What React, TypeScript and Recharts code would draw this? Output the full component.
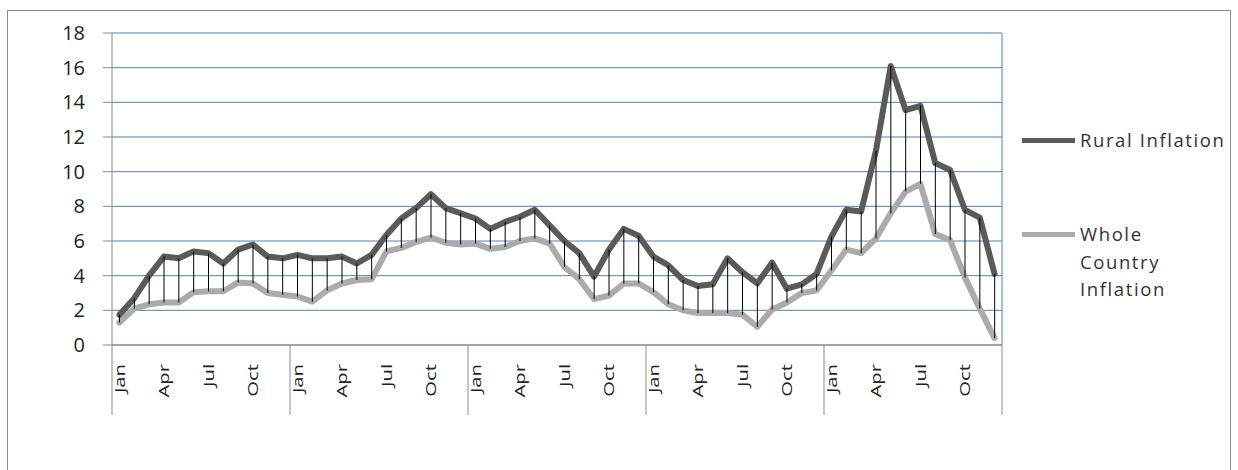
import React from "react";
import { ComposedChart, Line, Bar, XAxis, YAxis, CartesianGrid, Legend } from "recharts";

const monthNames = ["Jan","Feb","Mar","Apr","May","Jun","Jul","Aug","Sep","Oct","Nov","Dec"];
const yearsCount = 5;
const categories: string[] = Array.from({ length: yearsCount * 12 }, (_, i) => monthNames[i % 12]);
const shownLabels = ["Jan", "Apr", "Jul", "Oct"];

const rural = [
  1.75, 2.7, 4.0, 5.1, 5.0, 5.4, 5.3, 4.7, 5.5, 5.8, 5.1, 5.0,
  5.2, 5.0, 5.0, 5.1, 4.7, 5.2, 6.35, 7.3, 7.9, 8.7, 7.9, 7.6,
  7.3, 6.7, 7.1, 7.4, 7.8, 6.9, 6.0, 5.3, 3.95, 5.5, 6.7, 6.3,
  5.1, 4.6, 3.75, 3.4, 3.5, 5.0, 4.2, 3.55, 4.75, 3.25, 3.5, 4.1,
  6.25, 7.8, 7.7, 11.2, 16.1, 13.55, 13.8, 10.5, 10.1, 7.8, 7.35, 4.1,
];

const whole = [
  1.3, 2.1, 2.35, 2.45, 2.45, 3.05, 3.1, 3.1, 3.6, 3.55, 3.0, 2.9,
  2.8, 2.5, 3.15, 3.55, 3.75, 3.8, 5.4, 5.6, 5.95, 6.2, 5.9, 5.8,
  5.85, 5.55, 5.65, 6.0, 6.15, 5.85, 4.5, 3.8, 2.65, 2.85, 3.55, 3.55,
  3.05, 2.35, 2.0, 1.85, 1.85, 1.85, 1.75, 1.05, 2.05, 2.45, 3.0, 3.15,
  4.3, 5.5, 5.3, 6.15, 7.6, 8.85, 9.3, 6.4, 6.05, 3.9, 2.1, 0.4,
];

const yTicks = [0, 2, 4, 6, 8, 10, 12, 14, 16, 18];

const seriesNames = ["Rural Inflation", "Whole Country Inflation"];
const legendLines = [["Rural Inflation"], ["Whole", "Country", "Inflation"]];

const RURAL_COLOR = "#5a5a5a";
const WHOLE_COLOR = "#ababab";
const FONT = "'Open Sans', 'Noto Sans', sans-serif";

const data = categories.map((m, i) => ({
  month: m,
  rural: rural[i],
  whole: whole[i],
  range: [whole[i], rural[i]],
}));

const MonthTick = (props: any) => {
  const { x, y, payload, index } = props;
  const idx = payload?.index ?? index;
  const half = payload?.offset ?? 0;
  const label = payload?.value;
  const total = categories.length;
  return (
    <g>
      {idx % 12 === 0 && (
        <line x1={x - half} x2={x - half} y1={y} y2={y + 70} stroke="#8c8c8c" strokeWidth={1} />
      )}
      {idx === total - 1 && (
        <line x1={x + half} x2={x + half} y1={y} y2={y + 70} stroke="#8c8c8c" strokeWidth={1} />
      )}
      {shownLabels.includes(label) && (
        <text
          transform={`translate(${x + 5.3},${y + 19}) rotate(-90) scale(1.35,1)`}
          textAnchor="end"
          fontSize={15}
          fontFamily={FONT}
          fill="#222"
        >
          {label}
        </text>
      )}
    </g>
  );
};

const LegendContent = () => {
  const colors = [RURAL_COLOR, WHOLE_COLOR];
  return (
    <div style={{ fontFamily: FONT, fontSize: 18.5, lineHeight: "27.5px", color: "#333" }}>
      {legendLines.map((lines, k) => (
        <div key={k} style={{ display: "flex", alignItems: "flex-start", marginTop: k === 0 ? 0 : 66.5 }}>
          <div style={{ width: 53, height: 5, background: colors[k], marginTop: 11.5, flex: "none" }} />
          <div style={{ marginLeft: 5, letterSpacing: "1.6px", whiteSpace: "nowrap" }}>
            {lines.map((t, j) => (
              <div key={j}>{t}</div>
            ))}
          </div>
        </div>
      ))}
    </div>
  );
};

export default function App() {
  return (
    <div style={{ position: "absolute", left: 0, top: 0, width: 1238, height: 470, background: "#fff", overflow: "hidden" }}>
      <div
        style={{
          position: "absolute",
          left: 7,
          top: 10,
          width: 1224,
          height: 480,
          border: "1px solid #8c8c8c",
          boxSizing: "border-box",
        }}
      />
      <ComposedChart
        width={1238}
        height={470}
        data={data}
        margin={{ top: 33, right: 19, bottom: 55, left: 0 }}
        barCategoryGap={0}
      >
        <CartesianGrid horizontal={true} vertical={false} stroke="#4f81bd" strokeWidth={1} />
        <XAxis
          dataKey="month"
          interval={0}
          height={70}
          tickLine={false}
          tickSize={0}
          tickMargin={0}
          axisLine={{ stroke: "#8c8c8c" }}
          tick={<MonthTick />}
        />
        <YAxis
          width={112}
          domain={[0, 18]}
          ticks={yTicks}
          interval={0}
          tickSize={9}
          tickMargin={18}
          axisLine={{ stroke: "#8c8c8c" }}
          tickLine={{ stroke: "#8c8c8c" }}
          tick={{ fontSize: 20, fontFamily: FONT, fill: "#222" }}
        />
        <YAxis
          yAxisId="right"
          orientation="right"
          width={1}
          domain={[0, 18]}
          tick={false}
          tickLine={false}
          axisLine={{ stroke: "#4f81bd" }}
        />
        <Line
          type="linear"
          dataKey="whole"
          name={seriesNames[1]}
          stroke={WHOLE_COLOR}
          strokeWidth={6}
          strokeLinejoin="round"
          strokeLinecap="round"
          dot={false}
          activeDot={false}
          isAnimationActive={false}
        />
        <Line
          type="linear"
          dataKey="rural"
          name={seriesNames[0]}
          stroke={RURAL_COLOR}
          strokeWidth={6}
          strokeLinejoin="round"
          strokeLinecap="round"
          dot={false}
          activeDot={false}
          isAnimationActive={false}
        />
        <Bar
          dataKey="range"
          barSize={1}
          fill="#000"
          isAnimationActive={false}
          legendType="none"
          {...({ zIndex: 1000 } as any)}
        />
        <Legend
          content={<LegendContent />}
          layout="vertical"
          verticalAlign="top"
          align="right"
          wrapperStyle={{ position: "absolute", left: 1022, top: 126.3, width: 216 }}
        />
      </ComposedChart>
    </div>
  );
}
